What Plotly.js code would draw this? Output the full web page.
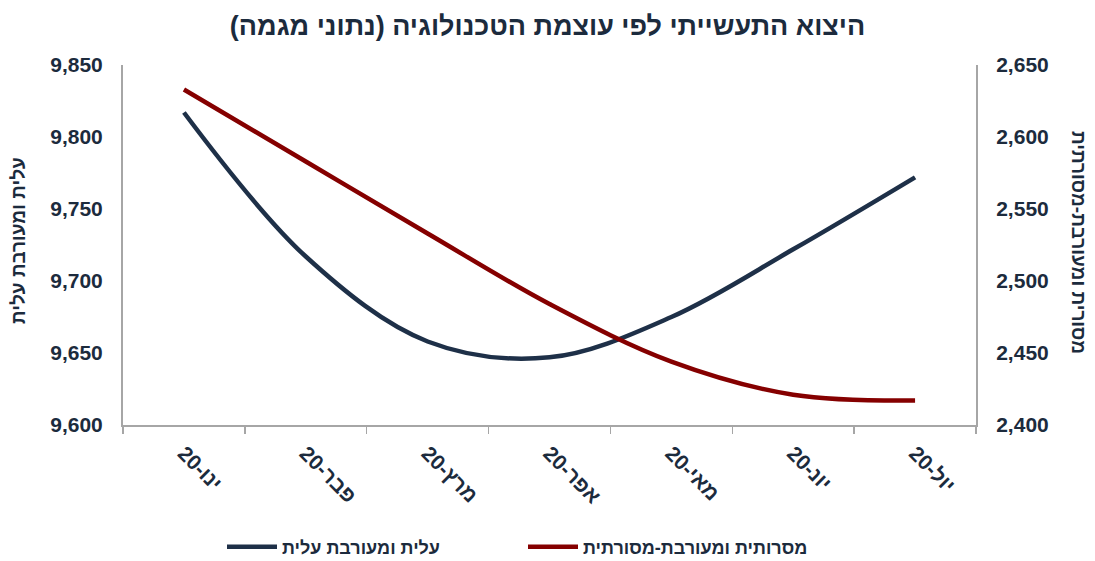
<!DOCTYPE html>
<html>
<head>
<meta charset="utf-8">
<script src="https://cdn.plot.ly/plotly-3.0.1.min.js"></script>
<style>html,body{margin:0;padding:0;background:#fff;}#chart{width:1095px;height:561px;}</style>
</head>
<body>
<div id="chart"></div>
<script>
const months = ["ינו-20", "פבר-20", "מרץ-20", "אפר-20", "מאי-20", "יונ-20", "יול-20"];
const eliteValues = [9817, 9717, 9658, 9647, 9675, 9722, 9772];
const traditionalValues = [2633, 2583, 2533, 2484, 2444, 2421, 2417];
const eliteName = "עלית ומעורבת עלית";
const traditionalName = "מסרותית ומעורבת-מסורתית";
const titleText = "היצוא התעשייתי לפי עוצמת הטכנולוגיה (נתוני מגמה)";
const leftTitle = "עלית ומעורבת עלית";
const rightTitle = "מסורית ומעורבת-מסורתית";
const leftTicks = [9600, 9650, 9700, 9750, 9800, 9850];
const rightTicks = [2400, 2450, 2500, 2550, 2600, 2650];

const navy = "#1e3048";
const red = "#850000";
const txt = "#1c2b3d";
const axisGray = "#a6a6a6";
const fam = "Liberation Sans, Arial, sans-serif";
const b = s => "<b>" + s + "</b>";
const fmt = v => v.toLocaleString("en-US");

const traces = [
  {x: months, y: eliteValues, name: b(eliteName), type: "scatter", mode: "lines",
   line: {color: navy, width: 4.5, shape: "spline", smoothing: 1}, yaxis: "y"},
  {x: months, y: traditionalValues, name: b(traditionalName), type: "scatter", mode: "lines",
   line: {color: red, width: 4.5, shape: "spline", smoothing: 1}, yaxis: "y2"}
];

const layout = {
  width: 1095, height: 561,
  margin: {l: 123, r: 119, t: 65, b: 136, autoexpand: false},
  paper_bgcolor: "#fff", plot_bgcolor: "#fff",
  font: {family: fam, color: txt, size: 18},
  title: {text: b(titleText), x: 0.5, xanchor: "center", y: 0.955, yanchor: "middle",
          font: {family: fam, size: 27, color: txt}},
  xaxis: {type: "category", range: [-0.5, 6.5], tickson: "boundaries", automargin: false,
          ticks: "outside", ticklen: 7, tickcolor: axisGray, tickwidth: 1.5,
          showline: true, linecolor: axisGray, linewidth: 2, showgrid: false, zeroline: false,
          tickangle: 45, tickvals: months, ticktext: months.map(b), ticklabelstandoff: 6,
          tickfont: {family: fam, size: 21, color: txt}, fixedrange: true},
  yaxis: {range: [9600, 9850], tickvals: leftTicks, ticktext: leftTicks.map(v => b(fmt(v))),
          showgrid: false, zeroline: false, automargin: false,
          showline: true, linecolor: axisGray, linewidth: 2, ticks: "", ticklabelstandoff: 14,
          tickfont: {family: fam, size: 21, color: txt}, fixedrange: true},
  yaxis2: {range: [2400, 2650], tickvals: rightTicks, ticktext: rightTicks.map(v => b(fmt(v))),
           overlaying: "y", side: "right", automargin: false,
           showgrid: false, zeroline: false, showline: true, linecolor: axisGray, linewidth: 2,
           ticks: "", ticklabelstandoff: 14,
           tickfont: {family: fam, size: 21, color: txt}, fixedrange: true},
  showlegend: true,
  legend: {orientation: "h", xref: "container", yref: "container",
           x: 222 / 1095, xanchor: "left", y: (561 - 547) / 561, yanchor: "middle",
           font: {family: fam, size: 18, color: txt}, itemwidth: 50,
           entrywidth: 236, entrywidthmode: "pixels", traceorder: "normal"},
  annotations: [
    {text: b(leftTitle), xref: "paper", yref: "paper", xanchor: "center",
     yanchor: "middle", showarrow: false, textangle: -90,
     font: {family: fam, size: 19, color: txt}},
    {text: b(rightTitle), xref: "paper", yref: "paper", xanchor: "center",
     yanchor: "middle", showarrow: false, textangle: 90,
     font: {family: fam, size: 19, color: txt}}
  ]
};

const plotW = 1095 - 123 - 119;
layout.annotations[0].x = (18 - 123) / plotW;
layout.annotations[1].x = (1079 - 123) / plotW;
layout.annotations[0].y = (425 - 241) / 360;
layout.annotations[1].y = (425 - 242) / 360;

Plotly.newPlot("chart", traces, layout, {displayModeBar: false, staticPlot: true});
</script>
</body>
</html>
